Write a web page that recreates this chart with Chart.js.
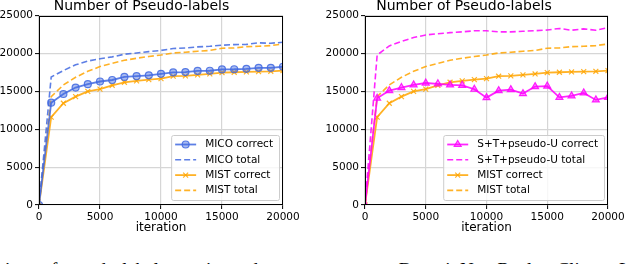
<!DOCTYPE html>
<html>
<head>
<meta charset="utf-8">
<script src="https://cdn.jsdelivr.net/npm/chart.js@4.4.0/dist/chart.umd.min.js"></script>
<style>
    body { margin: 0; background: #fff; width: 640px; height: 264px; overflow: hidden; position: relative; }
    .wrap { position: absolute; top: 0; width: 320px; height: 240px; }
    .cap { position: absolute; top: 260px; font-family: "Liberation Serif", serif; font-size: 19px; line-height: 19px; white-space: nowrap; color: #000; }
</style>
</head>
<body>
<div class="wrap" style="left:0"><canvas id="chartLeft" width="320" height="240"></canvas></div>
<div class="wrap" style="left:320px"><canvas id="chartRight" width="320" height="240"></canvas></div>
<div class="cap" style="left:5px">ison of pseudo-label quantity and accuracy</div>
<div class="cap" style="left:325px">tween on DomainNet: Real to Clipart. L</div>
<script>
// valores (iterações de 1000 em 1000)
const iterations = [0, 1000, 2000, 3000, 4000, 5000, 6000, 7000, 8000, 9000, 10000,
    11000, 12000, 13000, 14000, 15000, 16000, 17000, 18000, 19000, 20000];
const micoCorrect = [0, 13500, 14650, 15500, 15950, 16300, 16500, 16900, 17000, 17120, 17320,
    17500, 17550, 17700, 17720, 17900, 17920, 17980, 18100, 18100, 18250];
const micoTotal = [0, 16900, 17750, 18500, 19000, 19300, 19550, 19900, 20070, 20250, 20400,
    20650, 20730, 20870, 20950, 21090, 21170, 21200, 21400, 21350, 21480];
const mistCorrect = [0, 11600, 13430, 14300, 15000, 15300, 15800, 16200, 16380, 16550, 16680,
    17000, 17040, 17170, 17300, 17480, 17520, 17560, 17600, 17650, 17750];
const mistTotal = [0, 14300, 15850, 16860, 17650, 18270, 18700, 19100, 19370, 19600, 19800,
    20070, 20160, 20300, 20400, 20700, 20730, 20900, 20950, 21040, 21260];
const stpuCorrect = [0, 14100, 15100, 15500, 15850, 16100, 16000, 15850, 15800, 15280, 14170,
    15100, 15230, 14700, 15630, 15700, 14200, 14400, 14800, 13870, 14200];
const stpuTotal = [0, 19800, 21000, 21600, 22100, 22450, 22600, 22750, 22850, 23000, 23000,
    22850, 22850, 22930, 23000, 23100, 23300, 23070, 23250, 23070, 23400];
const xTicks = [0, 5000, 10000, 15000, 20000];
const yTicks = [0, 5000, 10000, 15000, 20000, 25000];

const BLUE = 'rgba(65, 105, 225, 0.85)';
const ORANGE = 'rgba(255, 165, 0, 0.85)';
const MAGENTA = 'rgba(255, 0, 255, 0.85)';
const FONT = '"DejaVu Sans", sans-serif';

function toPoints(values) {
    return values.map((v, i) => ({ x: iterations[i], y: v }));
}

function solid(label, values, color, fill, pointStyle, radius) {
    return {
        label, data: toPoints(values),
        borderColor: color, borderWidth: 1.8,
        pointStyle, pointRadius: radius, pointBorderWidth: 1.2,
        pointBackgroundColor: fill, pointBorderColor: color,
        tension: 0, clip: 0,
    };
}

function dashed(label, values, color) {
    return {
        label, data: toPoints(values),
        borderColor: color, borderWidth: 1.6, borderDash: [6, 3],
        pointRadius: 0, tension: 0, clip: 0,
    };
}

// moldura + legenda dentro da área do gráfico
const frameAndLegend = {
    id: 'frameAndLegend',
    afterDatasetsDraw(chart) {
        const { ctx, chartArea: a } = chart;
        ctx.save();
        ctx.strokeStyle = '#000';
        ctx.lineWidth = 1;
        ctx.setLineDash([]);
        const l = Math.round(a.left) + 0.5, t = Math.round(a.top) + 0.5;
        const r = Math.round(a.right) - 0.5, b = Math.round(a.bottom) - 0.5;
        ctx.strokeRect(l, t, r - l, b - t);

        const items = chart.data.datasets;
        ctx.font = '10.5px ' + FONT;
        const textW = Math.max(...items.map(d => ctx.measureText(d.label).width));
        const w = 4 + 21 + 9 + textW + 6;
        const h = 65, rowH = 15.3;
        const x0 = a.right - 4 - w, y0 = a.bottom - 5 - h;

        ctx.beginPath();
        ctx.roundRect(x0 + 0.5, y0 + 0.5, w, h, 2);
        ctx.fillStyle = 'rgba(255,255,255,0.8)';
        ctx.fill();
        ctx.strokeStyle = '#cccccc';
        ctx.stroke();

        items.forEach((d, i) => {
            const cy = y0 + 9.5 + i * rowH;
            ctx.strokeStyle = d.borderColor;
            ctx.lineWidth = d.borderWidth;
            ctx.setLineDash(d.borderDash || []);
            ctx.beginPath();
            ctx.moveTo(x0 + 4, cy);
            ctx.lineTo(x0 + 25, cy);
            ctx.stroke();
            ctx.setLineDash([]);
            if (d.pointRadius > 0) {
                ctx.fillStyle = d.pointBackgroundColor;
                ctx.strokeStyle = d.pointBorderColor;
                ctx.lineWidth = d.pointBorderWidth;
                Chart.helpers.drawPoint(ctx, {
                    pointStyle: d.pointStyle, radius: d.pointRadius,
                    borderWidth: d.pointBorderWidth, rotation: 0,
                }, x0 + 14.5, cy);
            }
            ctx.fillStyle = '#000';
            ctx.textBaseline = 'middle';
            ctx.textAlign = 'left';
            ctx.fillText(d.label, x0 + 34, cy);
        });
        ctx.restore();
    }
};

function makeChart(id, datasets, yWidth, padRight) {
    const ctx = document.getElementById(id).getContext('2d');
    return new Chart(ctx, {
        type: 'line',
        data: { datasets },
        plugins: [frameAndLegend],
        options: {
            responsive: false,
            animation: false,
            devicePixelRatio: 1,
            layout: { padding: { left: 0, right: padRight, top: 0, bottom: 0 } },
            plugins: {
                legend: { display: false },
                tooltip: { enabled: false },
                title: {
                    display: true,
                    text: 'Number of Pseudo-labels',
                    color: '#000',
                    font: { family: FONT, size: 14, weight: 'normal', lineHeight: 0.9 },
                    padding: { top: 0, bottom: 3 },
                },
            },
            scales: {
                x: {
                    type: 'linear', min: 0, max: 20000,
                    afterBuildTicks: s => { s.ticks = xTicks.map(v => ({ value: v })); },
                    ticks: {
                        color: '#000', font: { family: FONT, size: 10.5 }, padding: 2, maxRotation: 0,
                        callback: v => String(v),
                    },
                    grid: { color: '#d6d6d6', lineWidth: 1.2, tickColor: '#000', tickLength: 4, tickWidth: 1 },
                    border: { display: false },
                    title: {
                        display: true, text: 'iteration', color: '#000',
                        font: { family: FONT, size: 12 }, padding: { top: 0, bottom: 5 },
                    },
                    afterFit: s => { s.height = 35; },
                },
                y: {
                    min: 0, max: 25000,
                    afterBuildTicks: s => { s.ticks = yTicks.map(v => ({ value: v })); },
                    ticks: {
                        color: '#000', font: { family: FONT, size: 10.5 }, padding: 2,
                        callback: v => String(v),
                    },
                    grid: { color: '#d6d6d6', lineWidth: 1.2, tickColor: '#000', tickLength: 4, tickWidth: 1 },
                    border: { display: false },
                    afterFit: s => { s.width = yWidth; },
                },
            },
        },
    });
}

makeChart('chartLeft', [
    solid('MICO correct', micoCorrect, BLUE, 'rgba(65,105,225,0.45)', 'circle', 3.5),
    dashed('MICO total', micoTotal, BLUE),
    solid('MIST correct', mistCorrect, ORANGE, 'rgba(255,165,0,0.45)', 'crossRot', 3.5),
    dashed('MIST total', mistTotal, ORANGE),
], 39, 37);

makeChart('chartRight', [
    solid('S+T+pseudo-U correct', stpuCorrect, MAGENTA, 'rgba(255,0,255,0.45)', 'triangle', 4),
    dashed('S+T+pseudo-U total', stpuTotal, MAGENTA),
    solid('MIST correct', mistCorrect, ORANGE, 'rgba(255,165,0,0.45)', 'crossRot', 3.5),
    dashed('MIST total', mistTotal, ORANGE),
], 45, 32);
</script>
</body>
</html>
